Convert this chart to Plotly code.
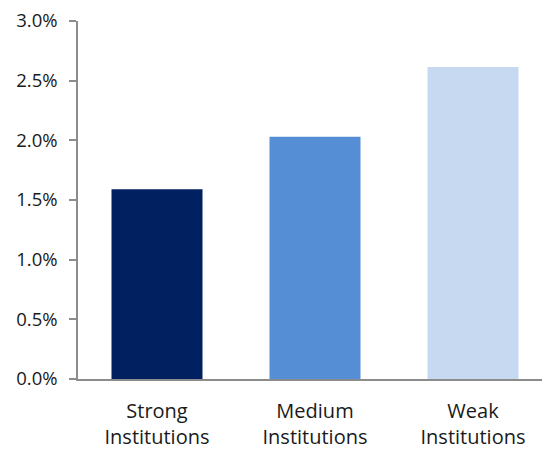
import plotly.graph_objects as go

categories = ["Strong<br>Institutions", "Medium<br>Institutions", "Weak<br>Institutions"]
values = [1.59, 2.03, 2.615]
colors = ["#002060", "#558ED5", "#C6D9F1"]
y_tickvals = [0, 0.5, 1.0, 1.5, 2.0, 2.5, 3.0]
y_ticktext = ["0.0%", "0.5%", "1.0%", "1.5%", "2.0%", "2.5%", "3.0%"]

fig = go.Figure(go.Bar(x=categories, y=values, marker=dict(color=colors, line=dict(width=0)), width=0.576))

font = "Segoe UI, Open Sans, Noto Sans, sans-serif"
fig.update_layout(
    width=550, height=449,
    margin=dict(l=70, r=6, t=13, b=78),
    plot_bgcolor="white", paper_bgcolor="white",
    showlegend=False,
    font=dict(family=font, size=18, color="#1a1a1a"),
)
fig.update_xaxes(
    range=[-0.5, 2.5], showline=True, linecolor="#8c8c8c", linewidth=1.5,
    ticks="", showgrid=False, tickfont=dict(size=20), ticklabelstandoff=13,
    automargin=False,
)
fig.update_yaxes(
    range=[0, 3.0], tickvals=y_tickvals, ticktext=y_ticktext,
    showline=True, linecolor="#8c8c8c", linewidth=1.5,
    ticks="outside", ticklen=7, tickcolor="#8c8c8c", tickwidth=1.5,
    showgrid=False, zeroline=False, tickfont=dict(size=18.5), ticklabelstandoff=8,
    ticklabeloverflow="allow", automargin=False,
)
fig.write_html("out.html")
